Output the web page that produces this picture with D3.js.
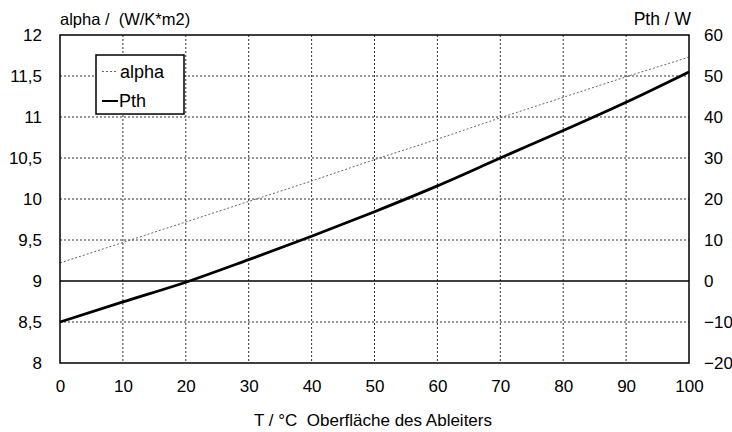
<!DOCTYPE html>
<html>
<head>
<meta charset="utf-8">
<script src="https://cdn.jsdelivr.net/npm/d3@7"></script>
<style>
  body { margin: 0; background: #fff; }
  text { font-family: "Liberation Sans", Arial, sans-serif; fill: #000; white-space: pre; }
</style>
</head>
<body>
<svg id="chart"></svg>
<script>
// data
let temps = [0, 10, 20, 30, 40, 50, 60, 70, 80, 90, 100]
let alphaVals = [9.22, 9.47, 9.72, 9.97, 10.22, 10.48, 10.73, 10.99, 11.24, 11.49, 11.73]
let pthVals = [-10, -5.1, -0.3, 5.2, 10.9, 16.9, 23.2, 30, 36.7, 43.6, 51.0]
let xTicks = [0, 10, 20, 30, 40, 50, 60, 70, 80, 90, 100]
let leftTicks = [8, 8.5, 9, 9.5, 10, 10.5, 11, 11.5, 12]
let rightTicks = [-20, -10, 0, 10, 20, 30, 40, 50, 60]

let svg = d3.select("#chart").attr("width", 732).attr("height", 432)

let pLeft = 60, pRight = 689, pTop = 35, pBottom = 363

let x = d3.scaleLinear().domain([0, 100]).range([pLeft, pRight])
let yL = d3.scaleLinear().domain([8, 12]).range([pBottom, pTop])
let yR = d3.scaleLinear().domain([-20, 60]).range([pBottom, pTop])

// grid
let grid = svg.append("g")
grid.selectAll(".vg").data(xTicks.slice(1, -1)).enter().append("line")
    .attr("x1", d => x(d)).attr("x2", d => x(d))
    .attr("y1", pTop).attr("y2", pBottom)
    .attr("stroke", "#333").attr("stroke-width", 1).attr("stroke-dasharray", "2,2")
grid.selectAll(".hg").data(leftTicks.filter(d => d != 8 && d != 12 && d != 9)).enter().append("line")
    .attr("x1", pLeft).attr("x2", pRight)
    .attr("y1", d => yL(d)).attr("y2", d => yL(d))
    .attr("stroke", "#333").attr("stroke-width", 1).attr("stroke-dasharray", "2,2")

// zero line (right axis 0 = left axis 9)
svg.append("line")
    .attr("x1", pLeft).attr("x2", pRight)
    .attr("y1", yR(0)).attr("y2", yR(0))
    .attr("stroke", "#000").attr("stroke-width", 1.5)

// alpha line
svg.append("path")
    .datum(temps)
    .attr("fill", "none")
    .attr("stroke", "#666")
    .attr("stroke-width", 1)
    .attr("stroke-dasharray", "2,2")
    .attr("d", d3.line().x(d => x(d)).y((d, i) => yL(alphaVals[i])).curve(d3.curveMonotoneX))

// Pth line
svg.append("path")
    .datum(temps)
    .attr("fill", "none")
    .attr("stroke", "#000")
    .attr("stroke-width", 2.8)
    .attr("d", d3.line().x(d => x(d)).y((d, i) => yR(pthVals[i])).curve(d3.curveMonotoneX))

// frame
svg.append("rect")
    .attr("x", pLeft).attr("y", pTop)
    .attr("width", pRight - pLeft).attr("height", pBottom - pTop)
    .attr("fill", "none").attr("stroke", "#000").attr("stroke-width", 1.5)

// axes
let comma = d => String(d).replace(".", ",")

let ax = svg.append("g")
    .attr("transform", "translate(0," + pBottom + ")")
    .call(d3.axisBottom(x).tickValues(xTicks).tickSize(0))
let ayl = svg.append("g")
    .attr("transform", "translate(" + pLeft + ",0)")
    .call(d3.axisLeft(yL).tickValues(leftTicks).tickFormat(comma).tickSize(0).tickPadding(18))
let ayr = svg.append("g")
    .attr("transform", "translate(" + pRight + ",0)")
    .call(d3.axisRight(yR).tickValues(rightTicks).tickSize(0).tickPadding(15))

for (let a of [ax, ayl, ayr]) {
    a.select(".domain").remove()
    a.selectAll("text").style("font-size", "17px").attr("font-family", null)
}
ax.selectAll("text").attr("dy", null).attr("y", 29)

// axis titles
svg.append("text").attr("x", 60).attr("y", 25).text("alpha /  (W/K*m2)").style("font-size", "16.5px")
svg.append("text").attr("x", 691).attr("y", 25).attr("text-anchor", "end").text("Pth / W").style("font-size", "17.5px")
svg.append("text").attr("x", 373).attr("y", 426).attr("text-anchor", "middle")
    .text("T / °C  Oberfläche des Ableiters").style("font-size", "17px")

// legend
let lg = svg.append("g")
lg.append("rect").attr("x", 96).attr("y", 55).attr("width", 88).attr("height", 59)
    .attr("fill", "#fff").attr("stroke", "#000").attr("stroke-width", 1.5)
lg.append("line").attr("x1", 102).attr("x2", 118).attr("y1", 71.5).attr("y2", 71.5)
    .attr("stroke", "#666").attr("stroke-width", 1).attr("stroke-dasharray", "2,2")
lg.append("line").attr("x1", 102).attr("x2", 118).attr("y1", 101).attr("y2", 101)
    .attr("stroke", "#000").attr("stroke-width", 2)
lg.append("text").attr("x", 120).attr("y", 78).text("alpha").style("font-size", "18px")
lg.append("text").attr("x", 119).attr("y", 107).text("Pth").style("font-size", "18px")
</script>
</body>
</html>
